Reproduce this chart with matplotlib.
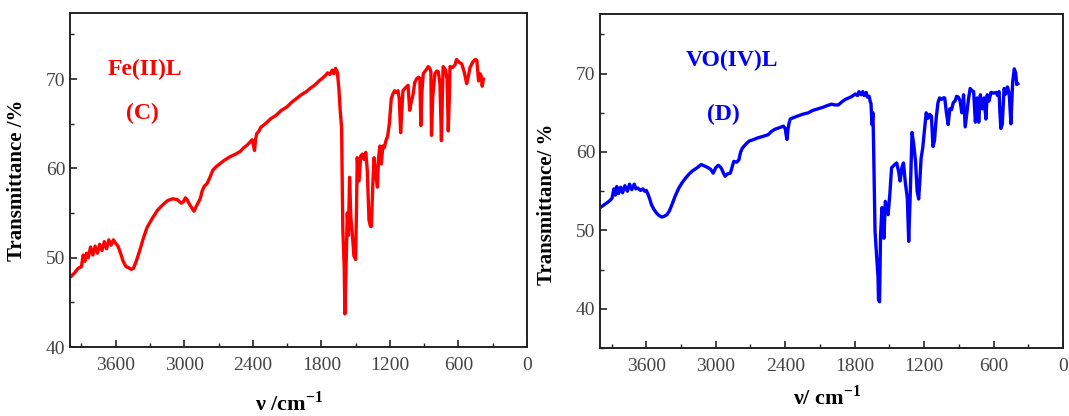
import matplotlib
matplotlib.use('Agg')
import matplotlib.pyplot as plt
from matplotlib.ticker import MultipleLocator

plt.rcParams['font.family'] = ['Liberation Serif', 'DejaVu Serif']
plt.rcParams['mathtext.fontset'] = 'custom'
plt.rcParams['mathtext.rm'] = 'Liberation Serif'
plt.rcParams['mathtext.bf'] = 'Liberation Serif:bold'

# Fe(II)L spectrum (C) - wavenumber / transmittance
fe_wn = [4000, 3960, 3930, 3900, 3885, 3870, 3855, 3840, 3820, 3800,
         3780, 3760, 3740, 3720, 3700, 3680, 3660, 3640, 3620, 3600,
         3580, 3560, 3535, 3510, 3490, 3465, 3445, 3420, 3385, 3355,
         3325, 3280, 3235, 3190, 3145, 3100, 3060, 3025, 3005, 2990,
         2975, 2960, 2935, 2915, 2900, 2885, 2860, 2845, 2825, 2800,
         2775, 2750, 2720, 2690, 2650, 2600, 2550, 2510, 2480, 2450,
         2420, 2405, 2395, 2385, 2375, 2365, 2345, 2330, 2290, 2240,
         2200, 2150, 2100, 2060, 2010, 1970, 1930, 1895, 1860, 1820,
         1790, 1765, 1745, 1725, 1705, 1690, 1676, 1660, 1647, 1635,
         1623, 1612, 1600, 1594, 1585, 1573, 1563, 1553, 1542, 1530,
         1515, 1500, 1493, 1486, 1470, 1455, 1441, 1425, 1411, 1398,
         1383, 1370, 1362, 1350, 1339, 1325, 1309, 1300, 1288, 1275,
         1262, 1249, 1235, 1220, 1205, 1188, 1175, 1159, 1145, 1129,
         1118, 1106, 1095, 1086, 1065, 1041, 1027, 1012, 998, 983,
         968, 950, 938, 929, 920, 908, 885, 864, 850, 841,
         836, 825, 806, 790, 776, 762, 749, 740, 734, 712,
         700, 689, 680, 674, 650, 630, 617, 595, 571, 550,
         528, 515, 499, 475, 454, 439, 424, 412, 402, 392,
         382]
fe_t = [47.8, 48.3, 48.8, 49.0, 50.3, 49.6, 50.5, 50.0, 51.2, 50.3,
        51.3, 50.5, 51.5, 50.8, 51.8, 51.0, 52.0, 51.4, 52.0, 51.6,
        51.3, 50.6, 49.6, 49.0, 48.9, 48.7, 48.8, 49.6, 51.0, 52.3,
        53.4, 54.4, 55.3, 55.9, 56.4, 56.6, 56.5, 56.1, 56.3, 56.7,
        56.5, 56.1, 55.6, 55.2, 55.6, 56.0, 56.6, 57.4, 58.0, 58.3,
        59.0, 59.8, 60.2, 60.5, 60.9, 61.3, 61.6, 61.9, 62.3, 62.6,
        63.0, 63.2, 62.6, 62.0, 63.3, 63.9, 64.2, 64.6, 65.0, 65.6,
        65.9, 66.5, 66.9, 67.4, 67.9, 68.3, 68.6, 69.0, 69.3, 69.8,
        70.1, 70.4, 70.7, 70.5, 71.0, 70.6, 71.2, 70.8, 69.0, 66.5,
        64.6, 53.1, 49.0, 43.7, 48.2, 55.0, 52.5, 59.0, 54.5, 52.8,
        50.2, 49.8, 55.0, 61.2, 58.6, 61.4, 61.6, 61.0, 61.8, 59.8,
        54.2, 53.5, 53.5, 58.0, 61.2, 59.5, 57.9, 61.0, 62.5, 60.5,
        62.5, 62.3, 63.1, 63.6, 65.0, 67.8, 68.3, 68.7, 68.5, 68.7,
        67.8, 64.0, 66.5, 68.7, 69.0, 69.3, 66.5, 67.5, 68.2, 69.6,
        70.0, 70.2, 70.1, 64.8, 68.5, 70.6, 71.0, 71.4, 71.2, 70.8,
        63.7, 68.0, 70.6, 70.9, 70.8, 69.5, 63.1, 68.5, 71.4, 71.0,
        70.0, 64.2, 68.0, 71.4, 71.3, 71.6, 72.2, 71.9, 71.7, 70.8,
        69.5, 70.2, 71.3, 71.9, 72.2, 72.1, 69.8, 70.6, 70.4, 69.2,
        70.0]

# VO(IV)L spectrum (D)
vo_wn = [4000, 3970, 3941, 3915, 3896, 3880, 3867, 3855, 3840, 3822,
         3805, 3785, 3763, 3745, 3725, 3704, 3690, 3674, 3650, 3630,
         3615, 3600, 3585, 3570, 3556, 3535, 3511, 3490, 3467, 3445,
         3422, 3400, 3378, 3350, 3319, 3290, 3259, 3230, 3200, 3160,
         3126, 3095, 3067, 3045, 3022, 3000, 2978, 2960, 2948, 2930,
         2919, 2900, 2874, 2860, 2844, 2820, 2800, 2785, 2770, 2740,
         2711, 2670, 2637, 2590, 2548, 2520, 2489, 2450, 2415, 2400,
         2392, 2385, 2375, 2365, 2356, 2326, 2290, 2252, 2200, 2163,
         2120, 2074, 2040, 2000, 1970, 1941, 1910, 1881, 1850, 1822,
         1795, 1775, 1763, 1745, 1730, 1719, 1700, 1690, 1674, 1665,
         1659, 1650, 1642, 1636, 1624, 1609, 1598, 1594, 1585, 1576,
         1564, 1555, 1547, 1535, 1522, 1511, 1496, 1481, 1460, 1437,
         1420, 1407, 1392, 1378, 1363, 1345, 1333, 1319, 1304, 1290,
         1274, 1260, 1247, 1236, 1226, 1212, 1197, 1182, 1167, 1152,
         1137, 1123, 1110, 1095, 1080, 1066, 1050, 1035, 1022, 1007,
         992, 978, 963, 948, 933, 919, 904, 889, 874, 859,
         845, 830, 815, 802, 785, 772, 757, 741, 728, 714,
         695, 681, 666, 655, 640, 622, 600, 578, 565, 552,
         545, 537, 525, 509, 494, 480, 465, 450, 435, 421,
         409, 400, 391]
vo_t = [52.9, 53.2, 53.5, 53.8, 54.1, 55.3, 54.5, 55.6, 54.7, 55.5,
        54.8, 55.7, 55.0, 55.9, 55.2, 55.9, 55.3, 55.4, 55.1, 55.3,
        55.0, 55.1, 54.6, 54.0, 53.3, 52.7, 52.2, 51.9, 51.7, 51.8,
        52.0, 52.5, 53.3, 54.4, 55.4, 56.1, 56.7, 57.2, 57.6, 58.0,
        58.4, 58.2, 58.0, 57.8, 57.3, 58.0, 58.3, 58.1, 57.8, 57.2,
        56.9, 57.2, 57.3, 58.0, 58.8, 58.7, 59.0, 60.0, 60.5, 61.0,
        61.4, 61.6, 61.8, 62.0, 62.2, 62.6, 62.9, 63.1, 63.3, 63.0,
        62.2, 61.6, 63.0, 63.8, 64.2, 64.4, 64.6, 64.8, 65.0, 65.3,
        65.5, 65.7, 65.9, 66.1, 66.0, 66.0, 66.4, 66.7, 66.9, 67.1,
        67.4, 67.2, 67.7, 67.3, 67.7, 67.2, 67.6, 67.0, 67.1, 66.4,
        66.2, 63.5, 65.0, 60.5, 49.9, 46.5, 44.0, 41.2, 40.9, 49.5,
        52.9, 51.0, 49.0, 53.7, 53.0, 52.0, 54.6, 58.0, 58.3, 58.6,
        57.5, 56.3, 58.0, 58.6, 56.2, 54.1, 48.6, 55.0, 62.5, 61.0,
        58.8, 55.0, 54.0, 56.5, 59.2, 60.5, 62.7, 65.0, 64.3, 64.8,
        64.6, 60.7, 61.5, 64.4, 66.3, 66.9, 66.7, 66.9, 66.9, 65.0,
        63.5, 65.5, 65.4, 66.3, 66.5, 67.1, 67.0, 66.5, 65.0, 67.3,
        63.2, 65.1, 66.9, 68.1, 67.8, 67.7, 63.8, 66.9, 63.8, 67.3,
        65.5, 66.9, 64.2, 67.3, 66.5, 67.6, 67.5, 67.6, 67.2, 67.7,
        65.0, 63.0, 63.5, 68.1, 67.4, 68.3, 67.5, 63.6, 68.9, 70.6,
        70.1, 68.6, 68.7]

x_ticks = [3600, 3000, 2400, 1800, 1200, 600, 0]


def style_axes(ax, ymin, ymax):
    ax.set_xlim(4000, 0)
    ax.set_ylim(ymin, ymax)
    ax.set_xticks(x_ticks)
    ax.xaxis.set_minor_locator(MultipleLocator(300))
    ax.set_yticks([40, 50, 60, 70])
    ax.yaxis.set_minor_locator(MultipleLocator(5))
    ax.tick_params(which='both', direction='in', top=False, right=False,
                   labelsize=14, labelcolor='#444444', color='#222222')
    ax.tick_params(which='major', length=5, width=1.2)
    ax.tick_params(which='minor', length=3, width=1.0)
    ax.tick_params(axis='x', pad=7)
    for s in ax.spines.values():
        s.set_linewidth(1.4)
        s.set_color('#222222')


fig = plt.figure(figsize=(10.69, 4.16), dpi=100)

# left panel
ax1 = fig.add_axes([70 / 1069, 1 - 347 / 416, 457 / 1069, 334 / 416])
ax1.plot(fe_wn, fe_t, color='#ff0000', lw=2.4)
style_axes(ax1, 40, 77.4)
ax1.set_ylabel('Transmittance /%', fontsize=15, fontweight='bold')
ax1.yaxis.set_label_coords(-0.095, 0.5)
ax1.set_xlabel(r'ν /cm$^{\mathbf{-1}}$', fontsize=16, fontweight='bold', va='baseline')
ax1.xaxis.set_label_coords(0.48, -0.19)
ax1.text(0.164, 0.83, 'Fe(II)L', transform=ax1.transAxes, color='#ff0000',
         fontsize=17, fontweight='bold', ha='center', va='center')
ax1.text(0.158, 0.70, '(C)', transform=ax1.transAxes, color='#ff0000',
         fontsize=17, fontweight='bold', ha='center', va='center')

# right panel
ax2 = fig.add_axes([600 / 1069, 1 - 348 / 416, 463 / 1069, 334 / 416])
ax2.plot(vo_wn, vo_t, color='#0000ff', lw=2.4)
style_axes(ax2, 35, 77.6)
ax2.set_ylabel('Transmittance/ %', fontsize=15, fontweight='bold')
ax2.yaxis.set_label_coords(-0.092, 0.43)
ax2.set_xlabel(r'ν/ cm$^{\mathbf{-1}}$', fontsize=16, fontweight='bold', va='baseline')
ax2.xaxis.set_label_coords(0.49, -0.17)
ax2.text(0.284, 0.86, 'VO(IV)L', transform=ax2.transAxes, color='#0000ff',
         fontsize=17, fontweight='bold', ha='center', va='center')
ax2.text(0.267, 0.70, '(D)', transform=ax2.transAxes, color='#0000ff',
         fontsize=17, fontweight='bold', ha='center', va='center')

fig.savefig('out.png', dpi=100)
